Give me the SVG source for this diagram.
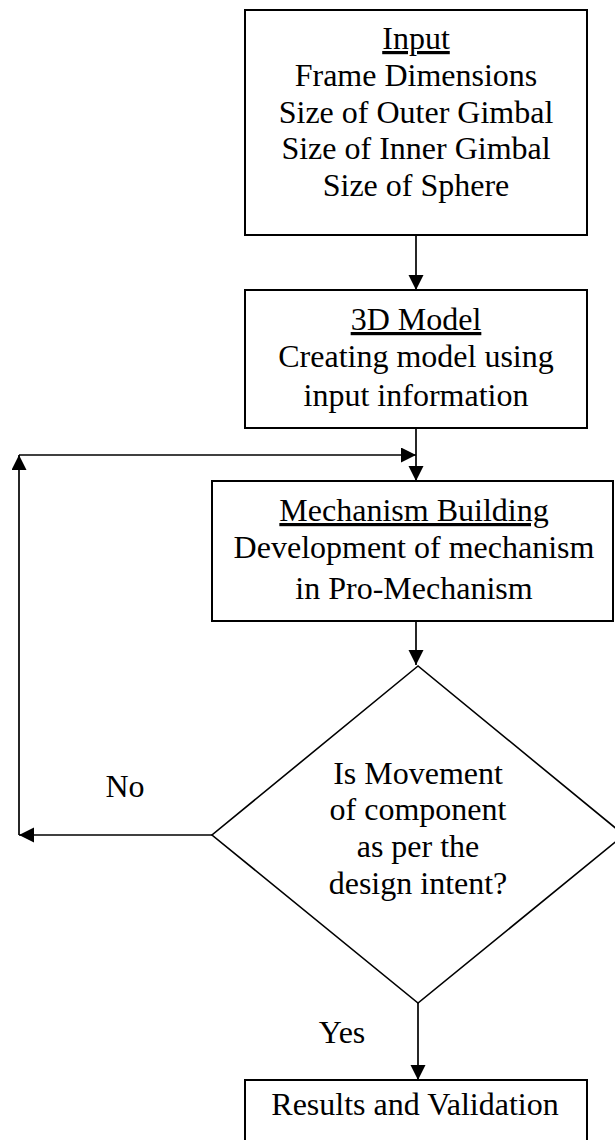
<svg xmlns="http://www.w3.org/2000/svg" width="615" height="1140" viewBox="0 0 615 1140">
<style>
.box{fill:#fff;stroke:#000;stroke-width:2}
.dia{fill:#fff;stroke:#000;stroke-width:1.6}
.t{font-family:"Liberation Serif","Times New Roman",serif;font-size:32px;fill:#000;text-anchor:middle}
.u{text-decoration:underline}
.c{fill:none;stroke:#000;stroke-width:1.7}
</style>
<defs>
<marker id="ah" markerUnits="userSpaceOnUse" markerWidth="16" markerHeight="16" refX="15" refY="7.5" orient="auto">
<path d="M0,0 L15,7.5 L0,15 z" fill="#000"/>
</marker>
</defs>
<rect width="615" height="1140" fill="#fff"/>
<g id="connectors">
<path class="c" d="M416,235 V290" marker-end="url(#ah)"/>
<path class="c" d="M416,428 V481" marker-end="url(#ah)"/>
<path class="c" d="M416,621 V665" marker-end="url(#ah)"/>
<path class="c" d="M212,835 H19" marker-end="url(#ah)"/>
<path class="c" d="M19,835 V455" marker-end="url(#ah)"/>
<path class="c" d="M19,455 H416" marker-end="url(#ah)"/>
<path class="c" d="M418,1003 V1080" marker-end="url(#ah)"/>
</g>
<g id="input">
<rect class="box" x="245" y="10" width="342" height="225"/>
<text class="t" x="416" y="49"><tspan class="u">Input</tspan></text>
<text class="t" x="416" y="86">Frame Dimensions</text>
<text class="t" x="416" y="123">Size of Outer Gimbal</text>
<text class="t" x="416" y="159">Size of Inner Gimbal</text>
<text class="t" x="416" y="196">Size of Sphere</text>
</g>
<g id="model3d">
<rect class="box" x="245" y="290" width="342" height="138"/>
<text class="t" x="416" y="330"><tspan class="u">3D Model</tspan></text>
<text class="t" x="416" y="367">Creating model using</text>
<text class="t" x="416" y="406">input information</text>
</g>
<g id="mechanism">
<rect class="box" x="212" y="481" width="401" height="140"/>
<text class="t" x="414" y="521"><tspan class="u">Mechanism Building</tspan></text>
<text class="t" x="414" y="558">Development of mechanism</text>
<text class="t" x="414" y="599">in Pro-Mechanism</text>
</g>
<g id="decision">
<polygon class="dia" points="418,666 212,835 418,1003 624,835"/>
<text class="t" x="418" y="784">Is Movement</text>
<text class="t" x="418" y="820">of component</text>
<text class="t" x="418" y="857">as per the</text>
<text class="t" x="418" y="894">design intent?</text>
</g>
<g id="labels">
<text class="t" x="125" y="797">No</text>
<text class="t" x="342" y="1043">Yes</text>
</g>
<g id="results">
<rect class="box" x="245" y="1080" width="342" height="70"/>
<text class="t" x="415" y="1115">Results and Validation</text>
</g>
</svg>
